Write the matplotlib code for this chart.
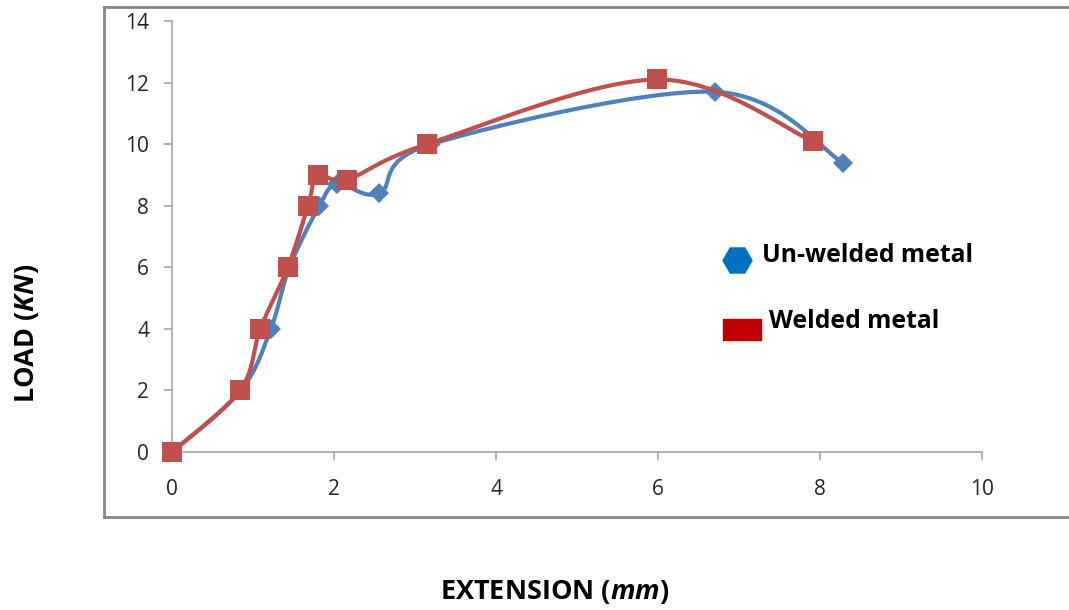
import matplotlib
matplotlib.use("Agg")
import matplotlib.pyplot as plt
from matplotlib.lines import Line2D
from matplotlib.patches import Rectangle
import numpy as np

# ===== Data =====
unwelded_ext = [0, 0.85, 1.22, 1.45, 1.82, 2.04, 2.56, 3.2, 6.7, 8.28]
unwelded_load = [0, 2, 4, 6, 8, 8.7, 8.4, 10, 11.7, 9.4]

welded_ext = [0, 0.84, 1.09, 1.43, 1.68, 1.80, 2.16, 3.15, 5.99, 7.91]
welded_load = [0, 2, 4, 6, 8, 9, 8.85, 10, 12.1, 10.1]

x_ticks = [0, 2, 4, 6, 8, 10]
y_ticks = [0, 2, 4, 6, 8, 10, 12, 14]

BLUE = "#4f81bd"
RED = "#c0504d"

plt.rcParams["mathtext.fontset"] = "custom"
plt.rcParams["mathtext.bfit"] = "Open Sans:italic:bold"
plt.rcParams["mathtext.it"] = "Open Sans:italic"
plt.rcParams["mathtext.rm"] = "Open Sans"


def excel_smooth(xs, ys, n=30):
    """Bezier smoothing like Excel's 'smoothed line' (Catmull-Rom, tension 1/6)."""
    p = np.column_stack([xs, ys]).astype(float)
    out = [p[0]]
    for i in range(len(p) - 1):
        p0 = p[i - 1] if i > 0 else p[i]
        p1, p2 = p[i], p[i + 1]
        p3 = p[i + 2] if i + 2 < len(p) else p[i + 1]
        c1 = p1 + (p2 - p0) / 6.0
        c2 = p2 - (p3 - p1) / 6.0
        t = np.linspace(0, 1, n)[1:, None]
        seg = ((1 - t) ** 3) * p1 + 3 * ((1 - t) ** 2) * t * c1 + 3 * (1 - t) * t ** 2 * c2 + t ** 3 * p2
        out.extend(seg)
    out = np.array(out)
    return out[:, 0], out[:, 1]


W, H = 1069, 610
fig = plt.figure(figsize=(W / 100, H / 100), dpi=100)
ax = fig.add_axes([172 / W, (H - 452) / H, (982 - 172) / W, (452 - 21) / H])

bx, by = excel_smooth(unwelded_ext, unwelded_load)
rx, ry = excel_smooth(welded_ext, welded_load)

ax.plot(bx, by, color=BLUE, lw=3.0, solid_capstyle="round", zorder=3, clip_on=False)
ax.plot(unwelded_ext, unwelded_load, ls="none", marker="D", ms=10,
        color=BLUE, mew=0, zorder=4, clip_on=False)
ax.plot(rx, ry, color=RED, lw=3.0, solid_capstyle="round", zorder=5, clip_on=False)
ax.plot(welded_ext, welded_load, ls="none", marker="s", ms=14,
        color=RED, mew=0, zorder=6, clip_on=False)

ax.set_xlim(0, 10)
ax.set_ylim(0, 14)
ax.set_xticks(x_ticks)
ax.set_yticks(y_ticks)
ax.set_xticklabels([str(v) for v in x_ticks])
ax.set_yticklabels([str(v) for v in y_ticks])
for s in ["top", "right"]:
    ax.spines[s].set_visible(False)
for s in ["left", "bottom"]:
    ax.spines[s].set_color("#a6a6a6")
    ax.spines[s].set_linewidth(1.2)
ax.tick_params(axis="both", direction="out", length=5.5, width=1.2,
               color="#a6a6a6", labelsize=15, labelcolor="#262626")
ax.tick_params(axis="x", pad=14)
ax.tick_params(axis="y", pad=11)
for lab in ax.get_xticklabels() + ax.get_yticklabels():
    lab.set_fontfamily("Open Sans")
ax.patch.set_alpha(0)

# chart frame (left, top, bottom edges only)
frame_kw = dict(color="#868686", lw=2.0, transform=fig.transFigure, clip_on=False)
fig.add_artist(Line2D([104 / W, 104 / W], [1 - 7 / H, 1 - 517 / H], **frame_kw))
fig.add_artist(Line2D([104 / W, 1.0], [1 - 7 / H, 1 - 7 / H], **frame_kw))
fig.add_artist(Line2D([104 / W, 1.0], [1 - 517 / H, 1 - 517 / H], **frame_kw))

# hand-placed legend
fig.add_artist(Line2D([737 / W], [1 - 260 / H], marker="H", ms=22, color="#0070c0",
                      mew=0, ls="none", transform=fig.transFigure))
fig.text(762 / W, 1 - 262 / H, "Un-welded metal", fontfamily="Open Sans",
         fontweight="bold", fontsize=17.8, va="baseline", ha="left")
fig.add_artist(Rectangle((723 / W, 1 - 340 / H), 38 / W, 21 / H, color="#c00000",
                         transform=fig.transFigure))
fig.text(769 / W, 1 - 328 / H, "Welded metal", fontfamily="Open Sans",
         fontweight="bold", fontsize=17.8, va="baseline", ha="left")

# axis titles
fig.text(555 / W, 1 - 592 / H, r"EXTENSION ($\mathbfit{mm}$)", fontfamily="Open Sans",
         fontweight="bold", fontsize=19.5, ha="center", va="center")
fig.text(27 / W, 1 - 333 / H, r"LOAD ($\mathbfit{KN}$)", fontfamily="Open Sans",
         fontweight="bold", fontsize=19.5, ha="center", va="center", rotation=90)

fig.savefig("out.png", dpi=100)
